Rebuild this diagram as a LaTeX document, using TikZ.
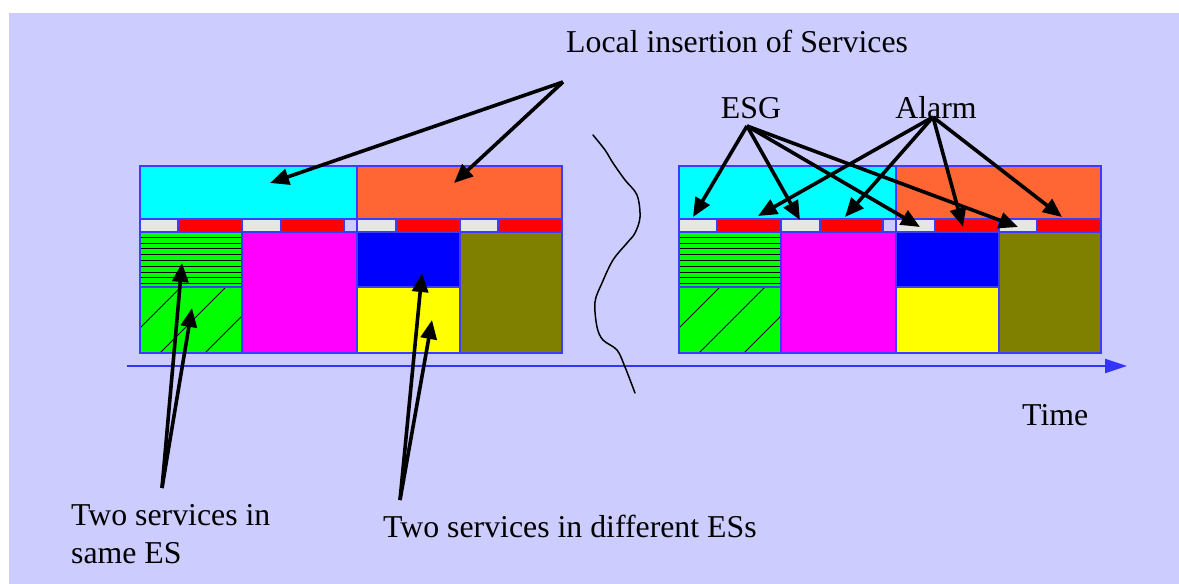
\documentclass[tikz,border=0pt]{standalone}
\usepackage{fontspec}
\setmainfont{Liberation Serif}
\usetikzlibrary{arrows.meta}
\definecolor{bg}{RGB}{204,204,255}
\definecolor{edge}{RGB}{60,60,255}
\definecolor{axisblue}{RGB}{51,51,255}
\definecolor{cyanc}{RGB}{0,255,255}
\definecolor{orangec}{RGB}{255,102,51}
\definecolor{grayc}{RGB}{230,230,230}
\definecolor{redc}{RGB}{255,0,0}
\definecolor{magc}{RGB}{255,0,255}
\definecolor{bluec}{RGB}{0,0,255}
\definecolor{yelc}{RGB}{255,255,0}
\definecolor{olivec}{RGB}{128,128,0}
\definecolor{greenc}{RGB}{0,255,0}
\tikzset{
  cell/.style={draw=edge, line width=1.2pt},
  pointer/.style={draw=black, line width=3.6pt, -{Triangle[length=19pt,width=16pt]}},
  timeaxis/.style={draw=axisblue, line width=1.8pt, -{Triangle[length=22pt,width=14pt]}},
  label/.style={inner sep=0pt, font=\fontsize{31.8}{38}\selectfont, text=black},
  hatch/.style={black, line width=0.8pt}
}
\begin{document}
\begin{tikzpicture}[x=1pt,y=-1pt]
\useasboundingbox (0,0) rectangle (1179,584);
\fill[white] (0,0) rectangle (1179,584);
\fill[bg] (9,13) rectangle (1179,584);

\foreach \dx in {0,539} {
\begin{scope}[xshift=\dx]
  \path[cell, fill=cyanc]   (140,166) rectangle (357,219);
  \path[cell, fill=orangec] (357,166) rectangle (562,219);
  \path[cell, fill=grayc] (140,219) rectangle (178,232);
  \path[cell, fill=redc]  (178,219) rectangle (242,232);
  \path[cell, fill=grayc] (242,219) rectangle (281,232);
  \path[cell, fill=redc]  (281,219) rectangle (344,232);
  \path[cell, fill=bg]    (344,219) rectangle (357,232);
  \path[cell, fill=grayc] (357,219) rectangle (396,232);
  \path[cell, fill=redc]  (396,219) rectangle (460,232);
  \path[cell, fill=grayc] (460,219) rectangle (498,232);
  \path[cell, fill=redc]  (498,219) rectangle (562,232);
  \path[fill=greenc] (140,232) rectangle (242,287);
  \foreach \yy in {237.3,243,248.8,254.6,260.4,266.2,272,277.8,283.6}
    \draw[hatch] (140,\yy) -- (242,\yy);
  \path[cell] (140,232) rectangle (242,287);
  \path[fill=greenc] (140,287) rectangle (242,353);
  \begin{scope}
    \clip (140,287) rectangle (242,353);
    \foreach \s in {468,513,558}
      \draw[hatch] (\s-360,360) -- (\s-280,280);
  \end{scope}
  \path[cell] (140,287) rectangle (242,353);
  \path[cell, fill=magc]    (242,232) rectangle (357,353);
  \path[cell, fill=bluec]   (357,232) rectangle (460,287);
  \path[cell, fill=yelc]    (357,287) rectangle (460,353);
  \path[cell, fill=olivec]  (460,232) rectangle (562,353);
\end{scope}
}

% time axis
\coordinate (t0) at (127,366);
\coordinate (t1) at (1127,366);
\draw[timeaxis] (t0) -- (t1);

% break mark
\draw[line width=1.5pt, line cap=round] plot[smooth, tension=0.55] coordinates {
  (593,135) (605,150) (613,163) (625,180) (637,195) (640,217) (635,233)
  (627,243) (613,260) (602,283) (595,302) (597,327) (603,340) (617,350)
  (625,367) (635,393)};

% labels
\node[label, anchor=base west] (local) at (566,52) {Local insertion of Services};
\node[label, anchor=base] (esg) at (751,118) {ESG};
\node[label, anchor=base] (alarm) at (936,118) {Alarm};
\node[label, anchor=base west] (time) at (1022,425) {Time};
\node[label, anchor=base west, align=left] (same) at (71,563) {Two services in\\same ES};
\node[label, anchor=base west] (diff) at (383,537) {Two services in different ESs};

% arrow origins
\coordinate (liO) at (563,82);
\coordinate (esgO) at (747,126);
\coordinate (alO) at (933,117);
\coordinate (sameO) at (162,488);
\coordinate (diffO) at (400,500);

% arrow targets
\coordinate (liA) at (270,183);
\coordinate (liB) at (454,183);
\coordinate (esg1) at (693,217);
\coordinate (esg2) at (800,220);
\coordinate (esg3) at (920,227);
\coordinate (esg4) at (1018,227);
\coordinate (al1) at (758,216);
\coordinate (al2) at (845,217);
\coordinate (al3) at (963,227);
\coordinate (al4) at (1062,217);
\coordinate (sameA) at (182,263);
\coordinate (sameB) at (192,308);
\coordinate (diffA) at (422,273);
\coordinate (diffB) at (432,320);

\draw[pointer] (liO) -- (liA);
\draw[pointer] (liO) -- (liB);
\foreach \t in {esg1,esg2,esg3,esg4} \draw[pointer] (esgO) -- (\t);
\foreach \t in {al1,al2,al3,al4} \draw[pointer] (alO) -- (\t);
\draw[pointer] (sameO) -- (sameA);
\draw[pointer] (sameO) -- (sameB);
\draw[pointer] (diffO) -- (diffA);
\draw[pointer] (diffO) -- (diffB);
\end{tikzpicture}
\end{document}
